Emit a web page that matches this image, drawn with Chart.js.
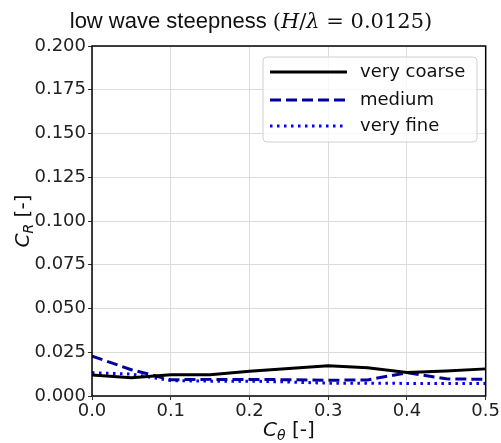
<!DOCTYPE html>
<html>
<head>
<meta charset="utf-8">
<script src="https://cdn.jsdelivr.net/npm/chart.js@4.4.0/dist/chart.umd.min.js"></script>
<style>
  html, body { margin: 0; padding: 0; background: #fff; }
  #wrap { width: 501px; height: 443px; }
</style>
</head>
<body>
<div id="wrap"><canvas id="chartCanvas" width="501" height="443"></canvas></div>
<script>
// values
const cTheta = [0.0, 0.05, 0.1, 0.15, 0.2, 0.25, 0.3, 0.35, 0.4, 0.45, 0.5];
const veryCoarse = [0.0120, 0.0105, 0.0122, 0.0122, 0.0142, 0.0157, 0.0173, 0.0162, 0.0135, 0.0143, 0.0155];
const medium     = [0.0228, 0.0150, 0.0093, 0.0095, 0.0095, 0.0093, 0.0090, 0.0092, 0.0133, 0.0098, 0.0095];
const veryFine   = [0.0133, 0.0125, 0.0088, 0.0085, 0.0085, 0.0080, 0.0073, 0.0073, 0.0072, 0.0072, 0.0072];
const seriesNames = ["very coarse", "medium", "very fine"];
const seriesColors = ["#000000", "#0000a0", "#0000ff"];
const seriesDash = [[], [11, 5], [2.5, 4.5]];

const sans = '"DejaVu Sans", sans-serif';
const serif = '"DejaVu Serif", serif';
const titleSans = '"Liberation Sans", Arial, sans-serif';

function toPoints(vals) {
  return vals.map((v, i) => ({ x: cTheta[i], y: v }));
}

// box, title, axis labels and legend drawn by hand (matplotlib look)
const decor = {
  id: "decor",
  afterDraw(chart) {
    const ctx = chart.ctx;
    const a = chart.chartArea;
    ctx.save();

    ctx.strokeStyle = "#000";
    ctx.lineWidth = 1.5;
    ctx.strokeRect(a.left, a.top, a.right - a.left, a.bottom - a.top);

    // title
    const parts = [
      ["low wave steepness ", "22px " + titleSans],
      ["(", "21px " + serif],
      ["H", "italic 21px " + serif],
      ["/", "21px " + serif],
      ["λ", "italic 21px " + serif],
      [" = 0.0125)", "21px " + serif]
    ];
    let total = 0;
    parts.forEach(p => { ctx.font = p[1]; total += ctx.measureText(p[0]).width; });
    let x = 251 - total / 2;
    ctx.fillStyle = "#111";
    ctx.textBaseline = "alphabetic";
    ctx.textAlign = "left";
    parts.forEach(p => { ctx.font = p[1]; ctx.fillText(p[0], x, 28); x += ctx.measureText(p[0]).width; });

    // x label
    drawSubLabel(ctx, "C", "θ", " [-]", (a.left + a.right) / 2, 436);

    // y label
    ctx.save();
    ctx.translate(29, (a.top + a.bottom) / 2);
    ctx.rotate(-Math.PI / 2);
    drawSubLabel(ctx, "C", "R", " [-]", 0, 0);
    ctx.restore();

    // legend
    const lx = 263, ly = 57, lw = 214, lh = 85;
    ctx.beginPath();
    ctx.roundRect(lx, ly, lw, lh, 4);
    ctx.fillStyle = "rgba(255,255,255,0.8)";
    ctx.fill();
    ctx.strokeStyle = "#d0d0d0";
    ctx.lineWidth = 1;
    ctx.stroke();
    const rows = [72, 100, 126];
    ctx.font = "18px " + sans;
    ctx.textBaseline = "middle";
    seriesNames.forEach((n, i) => {
      ctx.beginPath();
      ctx.setLineDash(seriesDash[i]);
      ctx.strokeStyle = seriesColors[i];
      ctx.lineWidth = 3;
      ctx.moveTo(270, rows[i]);
      ctx.lineTo(347, rows[i]);
      ctx.stroke();
      ctx.setLineDash([]);
      ctx.fillStyle = "#111";
      ctx.fillText(n, 360, rows[i]);
    });
    ctx.restore();
  }
};

function drawSubLabel(ctx, main, sub, rest, cx, baseline) {
  ctx.font = "italic 20px " + sans;
  const w1 = ctx.measureText(main).width;
  ctx.font = "italic 14px " + sans;
  const w2 = ctx.measureText(sub).width;
  ctx.font = "20px " + sans;
  const w3 = ctx.measureText(rest).width;
  let x = cx - (w1 + w2 + w3) / 2;
  ctx.fillStyle = "#111";
  ctx.textAlign = "left";
  ctx.textBaseline = "alphabetic";
  ctx.font = "italic 20px " + sans;
  ctx.fillText(main, x, baseline);
  x += w1;
  ctx.font = "italic 14px " + sans;
  ctx.fillText(sub, x, baseline + 4);
  x += w2;
  ctx.font = "20px " + sans;
  ctx.fillText(rest, x, baseline);
}

const datasets = [veryCoarse, medium, veryFine].map((vals, i) => ({
  label: seriesNames[i],
  data: toPoints(vals),
  borderColor: seriesColors[i],
  backgroundColor: seriesColors[i],
  borderWidth: 3,
  borderDash: seriesDash[i],
  pointRadius: 0,
  tension: 0,
  fill: false
}));

const chart = new Chart(document.getElementById("chartCanvas").getContext("2d"), {
  type: "line",
  data: { datasets: datasets },
  plugins: [decor],
  options: {
    responsive: false,
    animation: false,
    layout: { padding: { top: 46, right: 15, left: 0, bottom: 0 } },
    plugins: {
      legend: { display: false },
      title: { display: false },
      tooltip: { enabled: false }
    },
    scales: {
      x: {
        type: "linear",
        min: 0,
        max: 0.5,
        ticks: {
          stepSize: 0.1,
          color: "#222",
          font: { family: sans, size: 18 },
          padding: 1,
          callback: v => v.toFixed(1)
        },
        grid: { color: "#dcdcdc", tickColor: "#333", tickLength: 4 },
        border: { display: false },
        afterFit: s => { s.height = 47; }
      },
      y: {
        min: 0,
        max: 0.2,
        ticks: {
          stepSize: 0.025,
          color: "#222",
          font: { family: sans, size: 18 },
          padding: 2,
          callback: v => v.toFixed(3)
        },
        grid: { color: "#dcdcdc", tickColor: "#333", tickLength: 4 },
        border: { display: false },
        afterFit: s => { s.width = 92; }
      }
    }
  }
});
</script>
</body>
</html>
